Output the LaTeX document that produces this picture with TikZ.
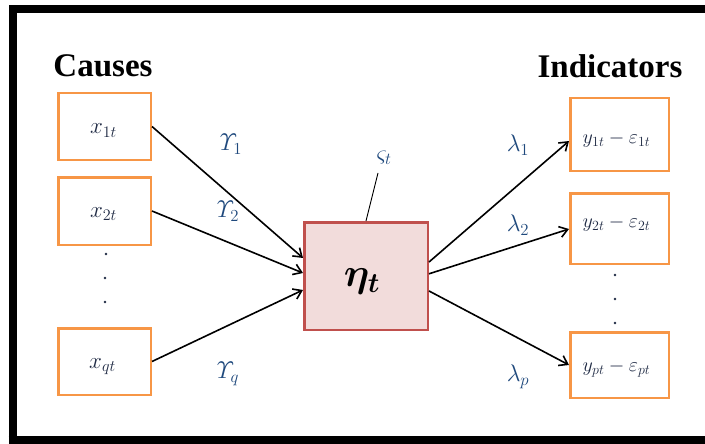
\RequirePackage{fix-cm}
\documentclass[tikz,border=0pt]{standalone}
\usepackage{amsmath}
\usepackage{fontspec}
\newfontfamily\headfont{Liberation Serif}
\usetikzlibrary{arrows.meta,calc}
\definecolor{boxorange}{HTML}{F79646}
\definecolor{etafill}{HTML}{F2DCDB}
\definecolor{etaline}{HTML}{C0504D}
\definecolor{lblblue}{HTML}{1F497D}
\definecolor{txtdark}{HTML}{1F2A44}
\begin{document}
\begin{tikzpicture}[x=1pt,y=-1pt,
  obox/.style={draw=boxorange,line width=2.5pt,fill=white,inner sep=0pt},
  xtext/.style={font=\fontsize{23}{23}\selectfont,text=txtdark,inner sep=0pt},
  ytext/.style={font=\fontsize{20}{20}\selectfont,text=txtdark,inner sep=0pt},
  head/.style={font=\headfont\bfseries\fontsize{33}{33}\selectfont,inner sep=0pt},
  coef/.style={font=\fontsize{24}{24}\selectfont,text=lblblue,inner sep=0pt},
  arr/.style={line width=1.6pt,-{Straight Barb[length=8pt,width=11pt,line width=1.6pt]}},
  dot/.style={circle,fill=txtdark,inner sep=0pt,minimum size=2.6pt}]
\useasboundingbox (0,0) rectangle (705,444);
\fill[white] (0,0) rectangle (705,444);
% frame
\draw[line width=8pt] (12.5,444) -- (12.5,9) -- (705,9);
\draw[line width=8pt] (8.5,440) -- (705,440);
% headings
\node[head] (causes) at (103,66) {Causes};
\node[head] (indic) at (610,66) {Indicators};
% left boxes
\node[obox,minimum width=92.5pt,minimum height=66.5pt] (x1) at (104.5,126.5) {};
\node[obox,minimum width=92.5pt,minimum height=67.5pt] (x2) at (104.5,211) {};
\node[obox,minimum width=92.5pt,minimum height=66.5pt] (xq) at (104.5,361.5) {};
\node[xtext] (x1t) at ($(x1.center)+(-1,4)$) {$x_{1t}$};
\node[xtext] (x2t) at ($(x2.center)+(-1,3)$) {$x_{2t}$};
\node[xtext] (xqt) at ($(xq.center)+(-2,5)$) {$x_{qt}$};
\node[dot] (ld1) at (106,254) {};
\node[dot] (ld2) at (105,278) {};
\node[dot] (ld3) at (105,302) {};
% center box
\node[draw=etaline,fill=etafill,line width=2.5pt,minimum width=123.5pt,minimum height=107.5pt,inner sep=0pt] (eta) at (366,276) {};
\node[font=\fontsize{40}{40}\selectfont,inner sep=0pt] (etat) at ($(eta.center)+(-4,5)$) {$\boldsymbol{\eta_t}$};
% right boxes
\node[obox,minimum width=98.5pt,minimum height=72.5pt] (y1) at (619.5,134.5) {};
\node[obox,minimum width=98.5pt,minimum height=70.5pt] (y2) at (619.5,228.5) {};
\node[obox,minimum width=98.5pt,minimum height=65.5pt] (yp) at (619.5,365) {};
\node[ytext] (y1t) at ($(y1.center)+(-3,5)$) {$y_{1t}-\varepsilon_{1t}$};
\node[ytext] (y2t) at ($(y2.center)+(-3,-5)$) {$y_{2t}-\varepsilon_{2t}$};
\node[ytext] (ypt) at ($(yp.center)+(-3,4)$) {$y_{pt}-\varepsilon_{pt}$};
\node[dot] (rd1) at (615,275) {};
\node[dot] (rd2) at (615,299) {};
\node[dot] (rd3) at (615,323) {};
% coefficient labels
\node[coef] (g1) at (231,144) {$\varUpsilon_1$};
\node[coef] (g2) at (228,211) {$\varUpsilon_2$};
\node[coef] (gq) at (228,374) {$\varUpsilon_q$};
\node[coef] (l1) at (518,145) {$\lambda_1$};
\node[coef] (l2) at (518,225) {$\lambda_2$};
\node[coef] (lp) at (518,377) {$\lambda_p$};
\node[coef] (zeta) at (384,158) {$\varsigma_t$};
% arrows in
\draw[arr] (x1.east) -- ($(eta.north west)!0.336!(eta.south west)$);
\draw[arr] (x2.east) -- ($(eta.north west)!0.473!(eta.south west)$);
\draw[arr] (xq.east) -- ($(eta.north west)!0.627!(eta.south west)$);
% arrows out
\draw[arr] ($(eta.north east)!0.373!(eta.south east)$) -- ($(y1.north west)!0.587!(y1.south west)$);
\draw[arr] ($(eta.north east)!0.48!(eta.south east)$) -- ($(y2.north west)!0.507!(y2.south west)$);
\draw[arr] ($(eta.north east)!0.636!(eta.south east)$) -- (yp.west);
% disturbance line
\coordinate (zl) at (378,173);
\draw[line width=0.9pt] (zl) -- (eta.north);
\end{tikzpicture}
\end{document}
